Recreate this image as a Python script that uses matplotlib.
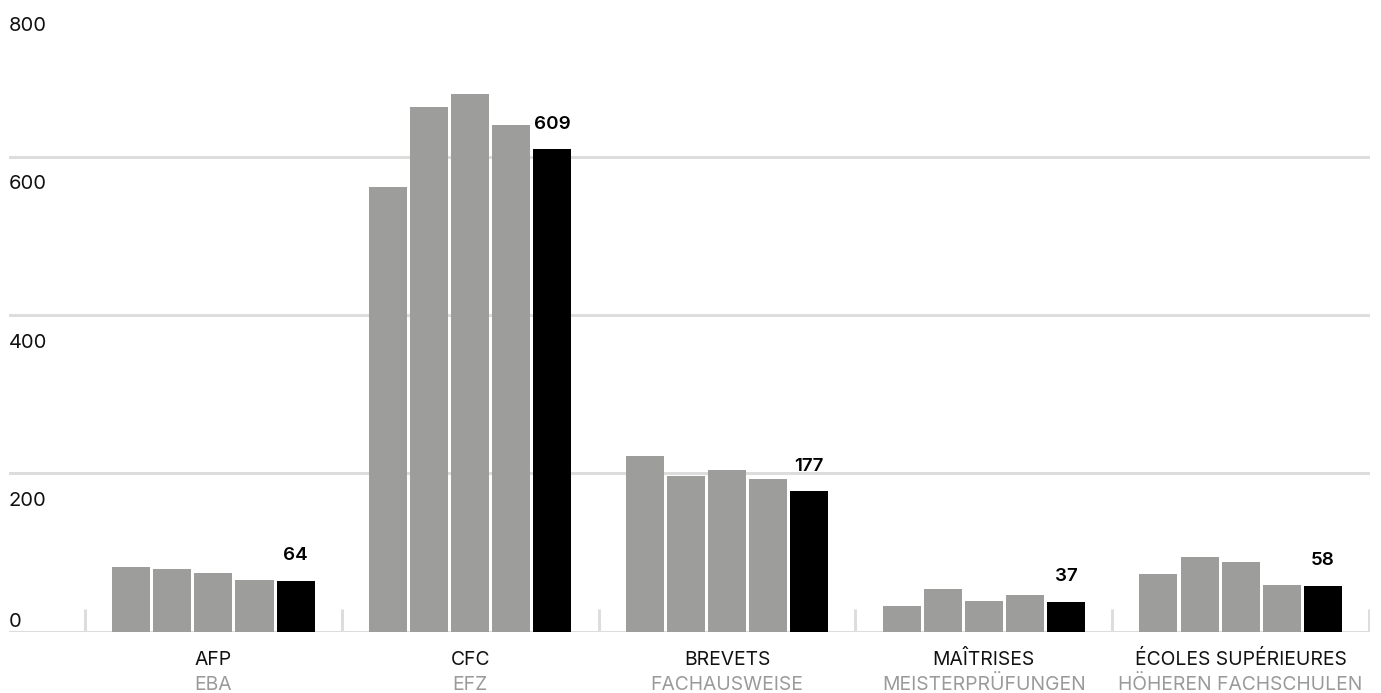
import numpy as np
import matplotlib

matplotlib.use("Agg")
import matplotlib.pyplot as plt

plt.rcParams["font.family"] = ["Inter", "DejaVu Sans"]

# data: five yearly values per category, the last one highlighted
categories_fr = ["AFP", "CFC", "BREVETS", "MAÎTRISES", "ÉCOLES SUPÉRIEURES"]
categories_de = ["EBA", "EFZ", "FACHAUSWEISE", "MEISTERPRÜFUNGEN", "HÖHEREN FACHSCHULEN"]
past_values = [
    [81, 79, 74, 65],
    [562, 663, 679, 640],
    [222, 197, 204, 193],
    [32, 54, 38, 46],
    [73, 94, 88, 59],
]
latest_values = [64, 609, 177, 37, 58]
y_ticks = [0, 200, 400, 600, 800]

GRAY = "#9d9d9c"
GRID = "#dddddd"
SUB = "#9a9a9a"

W, H = 1381, 693
fig = plt.figure(figsize=(W / 100, H / 100), dpi=100)
fig.patch.set_facecolor("white")
ax = fig.add_axes([9 / W, (H - 631.5) / H, (1370 - 9) / W, 633.2 / H])
ax.set_facecolor("white")

x = np.arange(len(categories_fr))
pitch = 0.16
width = 0.148
n_past = len(past_values[0])

for i in range(n_past):
    ax.bar(x + (i - n_past / 2) * pitch, [v[i] for v in past_values],
           width=width, color=GRAY, zorder=3)
ax.bar(x + (n_past / 2) * pitch, latest_values, width=width, color="black", zorder=3)

for xi, v in zip(x, latest_values):
    ax.annotate(str(v), xy=(xi + (n_past / 2) * pitch, v), xytext=(0, 15),
                textcoords="offset points", ha="center", va="baseline",
                fontsize=13.5, fontweight="semibold", color="black")

# gridlines + baseline
for t in y_ticks:
    ax.axhline(t, color=GRID, linewidth=2.2, zorder=1)

# group separators
ax.vlines(np.arange(len(categories_fr) + 1) - 0.5, 0, 29, color=GRID, linewidth=2.2, zorder=1)

# y labels sit under their gridlines, except 0 which sits above the baseline
for t in y_ticks:
    dy = 3 if t == 0 else -23.5
    ax.annotate(str(t), xy=(0, t), xycoords=("axes fraction", "data"), xytext=(0, dy),
                textcoords="offset points", ha="left", va="baseline",
                fontsize=14.5, color="#111111", annotation_clip=False)

for xi, fr, de in zip(x, categories_fr, categories_de):
    ax.annotate(fr, xy=(xi, 0), xytext=(0, -24.1), textcoords="offset points",
                ha="center", va="baseline", fontsize=13.9, color="#111111",
                annotation_clip=False)
    ax.annotate(de, xy=(xi, 0), xytext=(0, -42.1), textcoords="offset points",
                ha="center", va="baseline", fontsize=13.9, color=SUB,
                annotation_clip=False)

ax.set_xlim(-0.796, 4.5 + 1 / 256.75)
ax.set_ylim(0, 800)
ax.set_xticks([])
ax.set_yticks([])
for spine in ax.spines.values():
    spine.set_visible(False)

fig.savefig("out.png", dpi=100, facecolor="white")
